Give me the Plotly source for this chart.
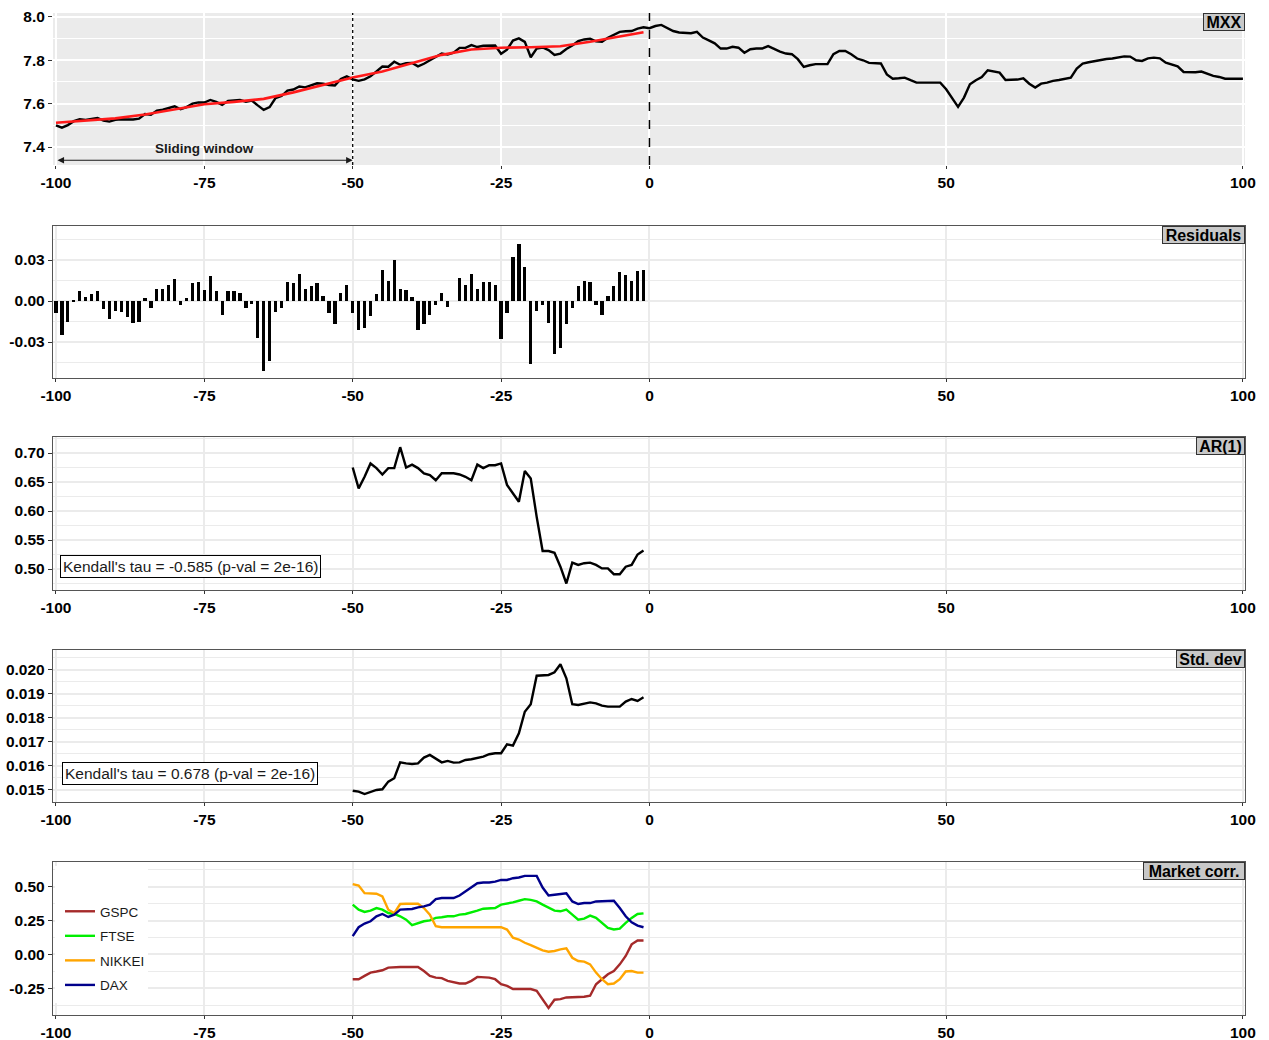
import plotly.graph_objects as go

# ---------------- data ----------------
x_ticks = [-100, -75, -50, -25, 0, 50, 100]
x_tick_text = ["-100", "-75", "-50", "-25", "0", "50", "100"]

# MXX index level, days -100 .. 100
mxx_days = list(range(-100, 101))
mxx = [
    7.500, 7.489, 7.501, 7.519, 7.528, 7.525, 7.530, 7.534, 7.522, 7.517,
    7.525, 7.528, 7.527, 7.527, 7.531, 7.552, 7.549, 7.568, 7.572, 7.580,
    7.588, 7.574, 7.584, 7.600, 7.606, 7.605, 7.617, 7.608, 7.594, 7.613,
    7.615, 7.617, 7.609, 7.614, 7.592, 7.571, 7.584, 7.626, 7.635, 7.660,
    7.665, 7.679, 7.675, 7.685, 7.694, 7.692, 7.686, 7.684, 7.714, 7.726,
    7.712, 7.705, 7.712, 7.726, 7.748, 7.771, 7.770, 7.793, 7.779, 7.786,
    7.788, 7.772, 7.784, 7.799, 7.814, 7.831, 7.826, 7.835, 7.857, 7.857,
    7.870, 7.861, 7.867, 7.869, 7.868, 7.830, 7.849, 7.891, 7.901, 7.885,
    7.814, 7.854, 7.859, 7.847, 7.825, 7.831, 7.852, 7.868, 7.888, 7.896,
    7.899, 7.887, 7.885, 7.904, 7.916, 7.931, 7.934, 7.935, 7.946, 7.952,
    7.948, 7.958, 7.963, 7.948, 7.935, 7.928, 7.925, 7.925, 7.931, 7.905,
    7.892, 7.878, 7.854, 7.854, 7.862, 7.858, 7.835, 7.851, 7.854, 7.854,
    7.865, 7.851, 7.840, 7.831, 7.828, 7.805, 7.769, 7.777, 7.782, 7.782,
    7.782, 7.828, 7.843, 7.843, 7.828, 7.808, 7.800, 7.788, 7.786, 7.785,
    7.735, 7.715, 7.717, 7.720, 7.708, 7.697, 7.697, 7.697, 7.697, 7.697,
    7.666, 7.628, 7.585, 7.628, 7.689, 7.708, 7.723, 7.754, 7.748, 7.743,
    7.709, 7.709, 7.711, 7.717, 7.692, 7.674, 7.692, 7.697, 7.705, 7.709,
    7.715, 7.720, 7.762, 7.785, 7.791, 7.797, 7.803, 7.806, 7.808, 7.812,
    7.818, 7.817, 7.800, 7.797, 7.809, 7.812, 7.809, 7.789, 7.782, 7.772,
    7.746, 7.745, 7.745, 7.748, 7.738, 7.728, 7.723, 7.715, 7.715, 7.715,
    7.715,
]

# smoothed trend over the sliding window
fit_days = [-100, -95, -90, -85, -80, -75, -70, -65, -60, -55, -50,
            -45, -40, -35, -30, -25, -20, -15, -10, -5, -1]
fit_vals = [7.512, 7.522, 7.532, 7.550, 7.572, 7.597, 7.608, 7.622, 7.652, 7.688, 7.721,
            7.748, 7.785, 7.825, 7.850, 7.858, 7.860, 7.865, 7.885, 7.910, 7.929]

# residuals from the trend, days -100 .. -1
resid_days = list(range(-100, 0))
residuals = [
    -0.009, -0.025, -0.015, 0.001, 0.0075, 0.003, 0.0055, 0.0075, -0.006, -0.013,
    -0.007, -0.008, -0.012, -0.016, -0.015, 0.002, -0.005, 0.009, 0.009, 0.012,
    0.016, -0.003, 0.002, 0.013, 0.014, 0.008, 0.018, 0.007, -0.010, 0.007,
    0.007, 0.006, -0.005, -0.002, -0.027, -0.051, -0.044, -0.008, -0.005, 0.014,
    0.013, 0.020, 0.009, 0.011, 0.013, 0.004, -0.009, -0.017, 0.006, 0.012,
    -0.009, -0.021, -0.020, -0.011, 0.005, 0.023, 0.015, 0.030, 0.009, 0.008,
    0.003, -0.021, -0.017, -0.010, -0.003, 0.006, -0.004, 0.000, 0.017, 0.012,
    0.020, 0.009, 0.014, 0.014, 0.012, -0.028, -0.009, 0.032, 0.042, 0.025,
    -0.046, -0.007, -0.003, -0.016, -0.039, -0.034, -0.017, -0.005, 0.011, 0.015,
    0.014, -0.003, -0.010, 0.004, 0.011, 0.021, 0.019, 0.015, 0.022, 0.023,
]

# rolling indicators, days -50 .. -1
ind_days = list(range(-50, 0))
ar1 = [
    0.675, 0.639, 0.659, 0.682, 0.674, 0.663, 0.674, 0.674, 0.710, 0.675,
    0.680, 0.674, 0.665, 0.662, 0.653, 0.665, 0.665, 0.665, 0.663, 0.659,
    0.653, 0.680, 0.674, 0.679, 0.679, 0.682, 0.645, 0.630, 0.616, 0.669,
    0.656, 0.590, 0.531, 0.531, 0.528, 0.504, 0.475, 0.511, 0.507, 0.510,
    0.511, 0.507, 0.501, 0.501, 0.491, 0.491, 0.504, 0.507, 0.525, 0.532,
]
std_dev = [
    0.01497, 0.01493, 0.01483, 0.01493, 0.01500, 0.01503, 0.01535, 0.01549, 0.01615, 0.01611,
    0.01608, 0.01611, 0.01635, 0.01646, 0.01632, 0.01615, 0.01621, 0.01614, 0.01615, 0.01625,
    0.01628, 0.01632, 0.01639, 0.01649, 0.01653, 0.01653, 0.01690, 0.01685, 0.01736, 0.01826,
    0.01857, 0.01976, 0.01979, 0.01979, 0.01990, 0.02024, 0.01965, 0.01857, 0.01854, 0.01861,
    0.01865, 0.01861, 0.01851, 0.01847, 0.01847, 0.01847, 0.01868, 0.01879, 0.01871, 0.01886,
]
corr_gspc = [
    -0.184, -0.184, -0.159, -0.135, -0.127, -0.118, -0.098, -0.093, -0.093, -0.093,
    -0.093, -0.093, -0.123, -0.159, -0.172, -0.176, -0.196, -0.208, -0.216, -0.216,
    -0.196, -0.167, -0.167, -0.172, -0.184, -0.221, -0.233, -0.257, -0.257, -0.257,
    -0.257, -0.270, -0.331, -0.397, -0.336, -0.331, -0.319, -0.319, -0.319, -0.314,
    -0.306, -0.221, -0.184, -0.147, -0.123, -0.074, -0.012, 0.074, 0.103, 0.103,
]
corr_ftse = [
    0.368, 0.331, 0.314, 0.324, 0.343, 0.331, 0.306, 0.299, 0.282, 0.257,
    0.216, 0.233, 0.245, 0.252, 0.270, 0.275, 0.282, 0.282, 0.294, 0.299,
    0.314, 0.324, 0.338, 0.338, 0.343, 0.368, 0.375, 0.385, 0.397, 0.409,
    0.404, 0.392, 0.368, 0.348, 0.324, 0.319, 0.331, 0.294, 0.257, 0.265,
    0.287, 0.270, 0.233, 0.196, 0.184, 0.191, 0.233, 0.270, 0.299, 0.304,
]
corr_nikkei = [
    0.520, 0.510, 0.453, 0.453, 0.449, 0.429, 0.331, 0.306, 0.373, 0.375,
    0.375, 0.375, 0.343, 0.294, 0.208, 0.201, 0.201, 0.201, 0.201, 0.201,
    0.201, 0.201, 0.201, 0.201, 0.201, 0.201, 0.184, 0.123, 0.110, 0.086,
    0.069, 0.049, 0.029, 0.020, 0.025, 0.037, 0.044, -0.025, -0.049, -0.054,
    -0.074, -0.135, -0.184, -0.221, -0.216, -0.184, -0.127, -0.123, -0.135, -0.135,
]
corr_dax = [
    0.135, 0.201, 0.228, 0.245, 0.282, 0.299, 0.277, 0.294, 0.331, 0.331,
    0.336, 0.348, 0.355, 0.368, 0.409, 0.417, 0.417, 0.417, 0.436, 0.466,
    0.495, 0.527, 0.532, 0.532, 0.539, 0.551, 0.551, 0.564, 0.569, 0.581,
    0.581, 0.581, 0.495, 0.436, 0.441, 0.446, 0.453, 0.392, 0.373, 0.380,
    0.380, 0.392, 0.392, 0.397, 0.397, 0.343, 0.282, 0.238, 0.213, 0.201,
]
market_names = ["GSPC", "FTSE", "NIKKEI", "DAX"]
market_colors = ["#A52A2A", "#00EE00", "#FFA500", "#00008B"]

kendall_ar1 = "Kendall's tau = -0.585 (p-val = 2e-16)"
kendall_std = "Kendall's tau = 0.678 (p-val = 2e-16)"

# ---------------- layout geometry (pixels) ----------------
W, H = 1269, 1040
PL, PR, PT, PB = 53, 1245, 13, 1015
panels = [(13, 165), (226, 378), (437, 590), (650, 802), (862, 1015)]


def ydom(top, bot):
    span = PB - PT
    return [(PB - bot) / span, (PB - top) / span]


FONT = "Liberation Sans, Arial, sans-serif"
tick_font = dict(family=FONT, size=15.5, color="black", weight="bold")

fig = go.Figure()

# ---- panel 1: MXX with trend ----
fig.add_trace(go.Scatter(x=mxx_days, y=mxx, mode="lines",
                         line=dict(color="black", width=2.4),
                         xaxis="x", yaxis="y", showlegend=False))
fig.add_trace(go.Scatter(x=fit_days, y=fit_vals, mode="lines",
                         line=dict(color="#FF1A1A", width=2.6),
                         xaxis="x", yaxis="y", showlegend=False))

# ---- panel 2: residuals ----
fig.add_trace(go.Bar(x=resid_days, y=residuals, width=0.55,
                     marker=dict(color="black", line=dict(width=0)),
                     xaxis="x2", yaxis="y2", showlegend=False))

# ---- panel 3: AR(1) ----
fig.add_trace(go.Scatter(x=ind_days, y=ar1, mode="lines",
                         line=dict(color="black", width=2.4),
                         xaxis="x3", yaxis="y3", showlegend=False))

# ---- panel 4: std. dev ----
fig.add_trace(go.Scatter(x=ind_days, y=std_dev, mode="lines",
                         line=dict(color="black", width=2.4),
                         xaxis="x4", yaxis="y4", showlegend=False))

# ---- panel 5: market correlations ----
for name, vals, col in zip(market_names,
                           [corr_gspc, corr_ftse, corr_nikkei, corr_dax],
                           market_colors):
    fig.add_trace(go.Scatter(x=ind_days, y=vals, mode="lines", name=name,
                             legendgroup=name,
                             line=dict(color=col, width=2.4),
                             xaxis="x5", yaxis="y5"))

# ---- axes ----
x_range = [-100.5, 100.35]
y_specs = [
    dict(range=[7.317, 8.018], tickvals=[7.4, 7.6, 7.8, 8.0],
         ticktext=["7.4", "7.6", "7.8", "8.0"], minor=[7.3, 7.5, 7.7, 7.9]),
    dict(range=[-0.0563, 0.0549], tickvals=[-0.03, 0.0, 0.03],
         ticktext=["-0.03", "0.00", "0.03"], minor=[-0.045, -0.015, 0.015, 0.045]),
    dict(range=[0.4638, 0.7276], tickvals=[0.50, 0.55, 0.60, 0.65, 0.70],
         ticktext=["0.50", "0.55", "0.60", "0.65", "0.70"],
         minor=[0.475, 0.525, 0.575, 0.625, 0.675, 0.725]),
    dict(range=[0.0145, 0.02083],
         tickvals=[0.015, 0.016, 0.017, 0.018, 0.019, 0.020],
         ticktext=["0.015", "0.016", "0.017", "0.018", "0.019", "0.020"],
         minor=[0.0145, 0.0155, 0.0165, 0.0175, 0.0185, 0.0195, 0.0205]),
    dict(range=[-0.449, 0.684], tickvals=[-0.25, 0.0, 0.25, 0.50],
         ticktext=["-0.25", "0.00", "0.25", "0.50"],
         minor=[-0.375, -0.125, 0.125, 0.375, 0.625]),
]

layout_axes = {}
for i, ((top, bot), spec) in enumerate(zip(panels, y_specs), start=1):
    first = i == 1
    grid_col = "white" if first else "#EBEBEB"
    sfx = "" if first else str(i)
    layout_axes["xaxis" + sfx] = dict(
        domain=[0, 1], anchor="y" + sfx, range=x_range, automargin=False,
        tickmode="array", tickvals=x_ticks, ticktext=x_tick_text,
        showgrid=True, gridcolor=grid_col, gridwidth=1.5, zeroline=False,
        ticks="outside", ticklen=3, tickwidth=1, tickcolor="#333333",
        tickfont=tick_font,
        showline=not first, mirror=True, linecolor="#555555", linewidth=1.4,
    )
    layout_axes["yaxis" + sfx] = dict(
        domain=ydom(top, bot), anchor="x" + sfx, range=spec["range"],
        automargin=False,
        tickmode="array", tickvals=spec["tickvals"], ticktext=spec["ticktext"],
        showgrid=True, gridcolor=grid_col, gridwidth=1.5, zeroline=False,
        minor=dict(tickmode="array", tickvals=spec["minor"], showgrid=True,
                   gridcolor=grid_col, gridwidth=1, ticks=""),
        ticks="outside", ticklen=4, tickwidth=1, tickcolor="#333333",
        tickfont=tick_font,
        showline=not first, mirror=True, linecolor="#555555", linewidth=1.4,
    )

shapes = [
    # grey panel background for the MXX panel
    dict(type="rect", xref="x domain", yref="y domain", x0=0, x1=1, y0=0, y1=1,
         fillcolor="#EBEBEB", line=dict(width=0), layer="below"),
    # end of the sliding window and event day
    dict(type="line", xref="x", yref="y domain", x0=-50, x1=-50, y0=0, y1=1,
         line=dict(color="black", width=1.3, dash="dot")),
    dict(type="line", xref="x", yref="y domain", x0=0, x1=0, y0=0, y1=1,
         line=dict(color="black", width=1.5, dash="dash")),
    # white backing behind the legend
    dict(type="rect", xref="x5 domain", yref="y5 domain",
         x0=(55 - PL) / (PR - PL), x1=(148 - PL) / (PR - PL),
         y0=(1015 - 1003) / 153, y1=(1015 - 866) / 153,
         fillcolor="white", line=dict(width=0), layer="above"),
]

strip_font = dict(family=FONT, size=16, color="black", weight="bold")
strips = [("MXX", 42), ("Residuals", 83), ("AR(1)", 49), ("Std. dev", 69),
          ("Market corr.", 102)]
annotations = []
for i, (label, w) in enumerate(strips, start=1):
    sfx = "" if i == 1 else str(i)
    annotations.append(dict(
        text=label, xref="x" + sfx + " domain", yref="y" + sfx + " domain",
        x=1, y=1, xanchor="right", yanchor="top", showarrow=False,
        font=strip_font, bgcolor="#C8C8C8", bordercolor="#333333",
        borderwidth=1, borderpad=0, width=w - 2, height=16, align="center",
    ))

annotations += [
    dict(text="Sliding window", x=-75, y=7.395, xref="x", yref="y",
         showarrow=False,
         font=dict(family=FONT, size=13.5, color="#1A1A1A", weight="bold")),
    dict(text="", x=-50, y=7.339, ax=-100, ay=7.339, xref="x", yref="y",
         axref="x", ayref="y", showarrow=True, arrowside="end+start",
         arrowhead=2, arrowsize=1.2, arrowwidth=1.1, arrowcolor="#1A1A1A",
         standoff=0, startstandoff=0),
    dict(text=kendall_ar1, x=-99.3, y=0.505, xref="x3", yref="y3",
         xanchor="left", yanchor="middle", showarrow=False,
         font=dict(family=FONT, size=15.5, color="#1A1A1A"),
         bgcolor="white", bordercolor="black", borderwidth=1, borderpad=2),
    dict(text=kendall_std, x=-99.0, y=0.01567, xref="x4", yref="y4",
         xanchor="left", yanchor="middle", showarrow=False,
         font=dict(family=FONT, size=15.5, color="#1A1A1A"),
         bgcolor="white", bordercolor="black", borderwidth=1, borderpad=2),
]

fig.update_layout(
    width=W, height=H,
    margin=dict(l=PL, r=W - PR, t=PT, b=H - PB, pad=0, autoexpand=False),
    paper_bgcolor="white", plot_bgcolor="white",
    shapes=shapes, annotations=annotations,
    bargap=0,
    showlegend=True,
    legend=dict(x=(60 - PL) / (PR - PL), y=(PB - 896) / (PB - PT),
                xanchor="left", yanchor="top", bgcolor="rgba(0,0,0,0)",
                borderwidth=0, tracegroupgap=4, traceorder="grouped",
                font=dict(family=FONT, size=13.5, color="#1A1A1A")),
    **layout_axes,
)

fig.write_html("out.html")
